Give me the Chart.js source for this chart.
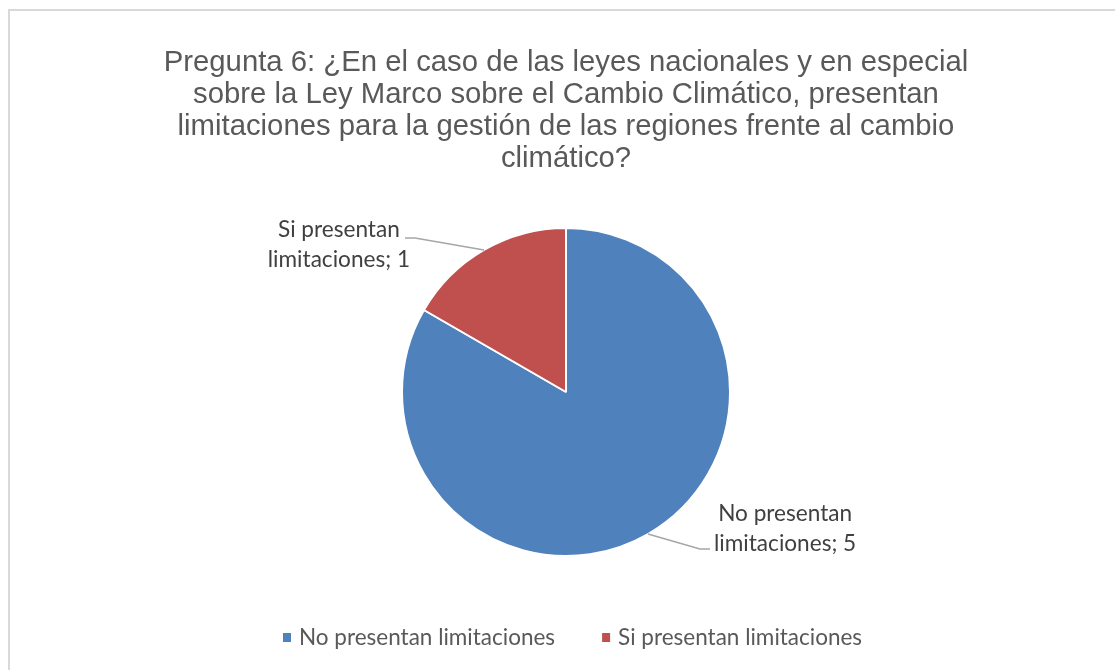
<!DOCTYPE html>
<html>
<head>
<meta charset="utf-8">
<script src="https://cdn.jsdelivr.net/npm/chart.js@4"></script>
<style>
  html, body { margin: 0; padding: 0; background: #fff; overflow: hidden; }
  #wrap { position: relative; width: 1115px; height: 670px; }
  #frame { position: absolute; left: 8px; top: 9px; width: 1200px; height: 800px;
           border: 2px solid #d9d9d9; pointer-events: none; }
  canvas { position: absolute; left: 0; top: 0; }
</style>
</head>
<body>
<div id="wrap">
  <div id="frame"></div>
  <canvas id="pieChart" width="1115" height="670"></canvas>
</div>
<script>
const titleLines = [
  'Pregunta 6: ¿En el caso de las leyes nacionales y en especial',
  'sobre la Ley Marco sobre el Cambio Climático, presentan',
  'limitaciones para la gestión de las regiones frente al cambio',
  'climático?'
];
const categories = ['No presentan limitaciones', 'Si presentan limitaciones'];
const answers = [5, 1];
const sliceColors = ['#4f81bd', '#c0504d'];
const labelLines = [
  ['No presentan', 'limitaciones; 5'],
  ['Si presentan', 'limitaciones; 1']
];

// leader line + text placement for each data label (relative to the slice anchor)
const labelPlacement = [
  { elbow: [52, 15], tail: 10, side: 'right', lineY: [-35, -5] },
  { elbow: [-69, -12], tail: -10, side: 'left', lineY: [-8, 22] }
];

const labelFont = '22.6px Lato, "Noto Sans", sans-serif';
const legendFont = '22.5px Lato, "Noto Sans", sans-serif';

const dataLabels = {
  id: 'dataLabels',
  afterDatasetsDraw(chart) {
    const ctx = chart.ctx;
    const arcs = chart.getDatasetMeta(0).data;
    ctx.save();
    ctx.font = labelFont;
    arcs.forEach((arc, i) => {
      const p = labelPlacement[i];
      const mid = (arc.startAngle + arc.endAngle) / 2;
      const ax = arc.x + arc.outerRadius * Math.cos(mid);
      const ay = arc.y + arc.outerRadius * Math.sin(mid);
      const ex = ax + p.elbow[0], ey = ay + p.elbow[1];
      const tx = ex + p.tail;
      ctx.strokeStyle = '#a6a6a6';
      ctx.lineWidth = 1.5;
      ctx.beginPath();
      ctx.moveTo(ax, ay);
      ctx.lineTo(ex, ey);
      ctx.lineTo(tx, ey);
      ctx.stroke();
      const lines = labelLines[i];
      const w = Math.max(...lines.map(t => ctx.measureText(t).width));
      const cx = p.side === 'right' ? tx + 4 + w / 2 : tx + 5 - w / 2;
      ctx.fillStyle = '#404040';
      ctx.textAlign = 'center';
      ctx.textBaseline = 'middle';
      lines.forEach((t, k) => ctx.fillText(t, cx, ey + p.lineY[k]));
    });
    ctx.restore();
  }
};

const bottomLegend = {
  id: 'bottomLegend',
  afterDraw(chart) {
    const ctx = chart.ctx;
    const box = 8, gapBox = 8, gapItem = 47, y = 638;
    ctx.save();
    ctx.font = legendFont;
    let x = 283;
    categories.forEach((t, i) => {
      ctx.fillStyle = sliceColors[i];
      ctx.fillRect(x, y - 5, box, 9);
      ctx.fillStyle = '#595959';
      ctx.textAlign = 'left';
      ctx.textBaseline = 'middle';
      ctx.fillText(t, x + box + gapBox, y);
      x += box + gapBox + ctx.measureText(t).width + gapItem;
    });
    ctx.restore();
  }
};

new Chart(document.getElementById('pieChart').getContext('2d'), {
  type: 'pie',
  data: {
    labels: categories,
    datasets: [{
      data: answers,
      backgroundColor: sliceColors,
      borderColor: '#ffffff',
      borderWidth: 2,
      radius: 164
    }]
  },
  options: {
    responsive: false,
    animation: false,
    layout: { padding: { left: 17, top: 0, right: 0, bottom: 69 } },
    plugins: {
      legend: { display: false },
      tooltip: { enabled: false },
      title: {
        display: true,
        text: titleLines,
        color: '#595959',
        font: { family: '"Liberation Sans", Arial, sans-serif', size: 29.3, weight: 'normal', lineHeight: 1.092 },
        padding: { top: 47, bottom: 8 }
      }
    }
  },
  plugins: [dataLabels, bottomLegend]
});
</script>
</body>
</html>
